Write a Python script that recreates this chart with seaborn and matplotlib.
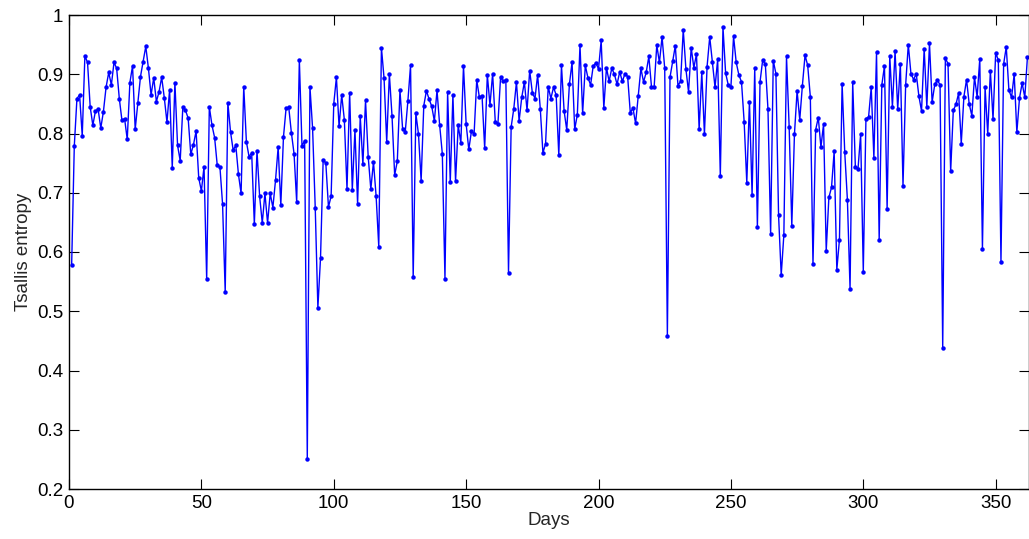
import numpy as np
import pandas as pd
import seaborn as sns
import matplotlib
matplotlib.use("Agg")
import matplotlib.pyplot as plt

# Tsallis entropy per day
entropy = [
    0.578, 0.779, 0.859, 0.865, 0.796, 0.931, 0.920, 0.845, 0.814, 0.838,
    0.841, 0.809, 0.837, 0.878, 0.903, 0.882, 0.920, 0.910, 0.859, 0.822,
    0.825, 0.790, 0.886, 0.914, 0.807, 0.852, 0.896, 0.921, 0.947, 0.910,
    0.865, 0.894, 0.854, 0.870, 0.895, 0.860, 0.819, 0.874, 0.742, 0.886,
    0.780, 0.754, 0.845, 0.839, 0.826, 0.765, 0.781, 0.804, 0.725, 0.703,
    0.744, 0.554, 0.845, 0.814, 0.793, 0.746, 0.744, 0.681, 0.532, 0.852,
    0.803, 0.772, 0.780, 0.731, 0.699, 0.879, 0.786, 0.761, 0.767, 0.647,
    0.771, 0.694, 0.649, 0.699, 0.649, 0.699, 0.675, 0.721, 0.777, 0.679,
    0.794, 0.843, 0.844, 0.801, 0.766, 0.684, 0.924, 0.779, 0.788, 0.251,
    0.879, 0.809, 0.675, 0.506, 0.590, 0.756, 0.750, 0.676, 0.694, 0.850,
    0.895, 0.812, 0.865, 0.823, 0.706, 0.869, 0.705, 0.806, 0.681, 0.829,
    0.748, 0.856, 0.761, 0.706, 0.752, 0.694, 0.609, 0.945, 0.893, 0.786,
    0.900, 0.830, 0.730, 0.753, 0.873, 0.808, 0.803, 0.855, 0.915, 0.557,
    0.834, 0.799, 0.720, 0.847, 0.872, 0.858, 0.846, 0.821, 0.873, 0.814,
    0.766, 0.555, 0.870, 0.718, 0.865, 0.719, 0.814, 0.784, 0.914, 0.816,
    0.773, 0.804, 0.799, 0.890, 0.861, 0.864, 0.775, 0.899, 0.848, 0.901,
    0.820, 0.816, 0.895, 0.888, 0.890, 0.565, 0.811, 0.842, 0.887, 0.821,
    0.861, 0.887, 0.839, 0.906, 0.869, 0.859, 0.899, 0.842, 0.767, 0.783,
    0.879, 0.859, 0.878, 0.865, 0.763, 0.915, 0.838, 0.806, 0.883, 0.920,
    0.807, 0.832, 0.949, 0.834, 0.915, 0.894, 0.882, 0.914, 0.919, 0.909,
    0.957, 0.843, 0.911, 0.888, 0.910, 0.900, 0.883, 0.904, 0.888, 0.901,
    0.896, 0.835, 0.843, 0.817, 0.864, 0.910, 0.887, 0.903, 0.930, 0.879,
    0.878, 0.949, 0.920, 0.963, 0.910, 0.459, 0.895, 0.922, 0.948, 0.881,
    0.888, 0.975, 0.909, 0.870, 0.945, 0.911, 0.934, 0.807, 0.903, 0.799,
    0.913, 0.963, 0.921, 0.878, 0.925, 0.728, 0.980, 0.902, 0.882, 0.878,
    0.964, 0.920, 0.899, 0.887, 0.820, 0.717, 0.854, 0.696, 0.910, 0.642,
    0.887, 0.924, 0.917, 0.841, 0.630, 0.923, 0.901, 0.662, 0.561, 0.629,
    0.930, 0.811, 0.644, 0.799, 0.872, 0.823, 0.881, 0.932, 0.915, 0.862,
    0.579, 0.806, 0.827, 0.777, 0.816, 0.602, 0.692, 0.709, 0.770, 0.570,
    0.621, 0.884, 0.768, 0.688, 0.538, 0.887, 0.744, 0.740, 0.799, 0.567,
    0.825, 0.828, 0.878, 0.759, 0.937, 0.620, 0.882, 0.914, 0.673, 0.931,
    0.845, 0.939, 0.841, 0.918, 0.712, 0.882, 0.950, 0.901, 0.891, 0.901,
    0.863, 0.838, 0.943, 0.845, 0.952, 0.853, 0.883, 0.890, 0.882, 0.438,
    0.927, 0.918, 0.736, 0.839, 0.849, 0.868, 0.783, 0.862, 0.891, 0.850,
    0.830, 0.895, 0.862, 0.926, 0.605, 0.878, 0.799, 0.906, 0.824, 0.936,
    0.924, 0.583, 0.917, 0.946, 0.873, 0.861, 0.900, 0.802, 0.860, 0.885,
    0.861, 0.929,
]
days = np.arange(1, len(entropy) + 1)

x_ticks = [0, 50, 100, 150, 200, 250, 300, 350]
y_ticks = [0.2, 0.3, 0.4, 0.5, 0.6, 0.7, 0.8, 0.9, 1.0]
y_labels = ["0.2", "0.3", "0.4", "0.5", "0.6", "0.7", "0.8", "0.9", "1"]

df = pd.DataFrame({"Days": days, "Tsallis entropy": entropy})

sns.set_style("ticks")
plt.rcParams["font.family"] = ["Liberation Sans", "DejaVu Sans"]
plt.rcParams["xtick.direction"] = "in"
plt.rcParams["ytick.direction"] = "in"

fig = plt.figure(figsize=(10.29, 5.39), dpi=100)
ax = fig.add_axes([69 / 1029, 1 - 489 / 539, 959.5 / 1029, 474 / 539])

sns.lineplot(data=df, x="Days", y="Tsallis entropy", ax=ax, color="#0000ff",
             linewidth=1.0, marker="o", markersize=3.2, markeredgewidth=0)

ax.set_xlim(0, 362.4)
ax.set_ylim(0.2, 1.0)
ax.set_xticks(x_ticks)
ax.set_yticks(y_ticks)
ax.set_yticklabels(y_labels)
ax.tick_params(axis="both", which="both", direction="in", length=7, width=0.8,
               top=True, right=True, labelsize=13.5, colors="black", pad=4)
for s in ax.spines.values():
    s.set_visible(True)
    s.set_color("black")
    s.set_linewidth(1.0)
ax.set_xlabel("Days", fontsize=13.5, labelpad=0)
ax.set_ylabel("Tsallis entropy", fontsize=13.5, labelpad=4)

fig.savefig("out.png", dpi=100)
